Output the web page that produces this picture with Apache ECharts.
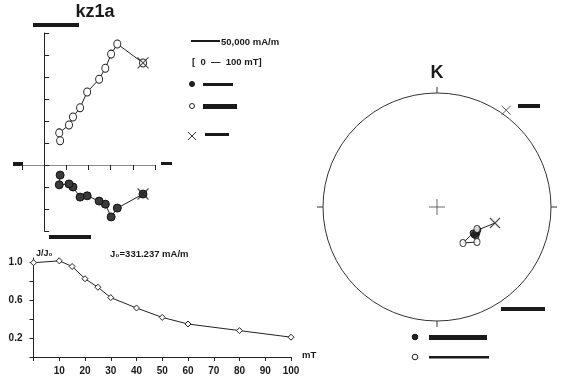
<!DOCTYPE html>
<html><head><meta charset="utf-8">
<script src="https://cdn.jsdelivr.net/npm/echarts@6/dist/echarts.min.js"></script>
<style>html,body{margin:0;padding:0;background:#fff}#c{width:579px;height:380px}</style>
</head><body><div id="c"></div>
<script>
// AF demagnetisation steps (mT)
const steps = [0, 10, 15, 20, 25, 30, 40, 50, 60, 80, 100];
// orthogonal components (mA/m)
const east  = [223, 165, 151, 138, 124, 97, 81, 65, 56, 34, 36];
const north = [-66, -98, -118, -89, -82, -70, -73, -50, -43, -45, -23];
const up    = [232, 275, 252, 220, 195, 166, 130, 109, 91, 73, 55];
// normalised remanence J/J0
const jRel = [1.0, 1.02, 0.96, 0.83, 0.74, 0.63, 0.52, 0.42, 0.35, 0.28, 0.21];
// directions for the equal-area net (negative inc = upper hemisphere)
const dec = [105.4, 119.3, 123.0, 122.7, 125.4, 127.1, 118.8, 126.6, 125.8, 144.2, 131.2];
const inc = [46.2, 56.1, 55.6, 56.6, 56.4, 56.5, -57.1, 54.9, 58.0, -58.0, -51.5];
const refDir = [35.5, 0];
// tick labels
const demagLabels = [10, 20, 30, 40, 50, 60, 70, 80, 90, 100];
const jLabels = [0.2, 0.6, 1.0];
const jTicks = [0, 0.2, 0.4, 0.6, 0.8, 1.0];

const FONT = 'Liberation Sans, DejaVu Sans, Arial, sans-serif';
const X_PATH = 'path://M0,0L10,10M10,0L0,10';
const PLUS_PATH = 'path://M5,0L5,10M0,5L10,5';

// equal-area radius (0 at centre, 1 at primitive)
function eqArea(i) {
  return Math.SQRT2 * Math.sin((90 - Math.abs(i)) / 2 * Math.PI / 180);
}

const netPts = dec.map((d, k) => [eqArea(inc[k]), d]);
const lowerPts = netPts.filter((p, k) => inc[k] >= 0 && k > 0);
const upperPts = netPts.filter((p, k) => inc[k] < 0 && k > 0);

const chart = echarts.init(document.getElementById('c'), null, {renderer: 'canvas'});

const bar = (x, y, w, h) => ({type: 'rect', shape: {x, y, width: w, height: h}, style: {fill: '#1a1a1a'}, silent: true});
const txt = (x, y, text, size, align, weight) => ({
  type: 'text', x, y,
  style: {text, font: (weight || 'bold') + ' ' + size + 'px ' + FONT, fill: '#1a1a1a', align: align || 'left', verticalAlign: 'middle'},
  silent: true
});

chart.setOption({
  animation: false,
  backgroundColor: '#fff',
  grid: [
    {left: 22, top: 33, width: 133, height: 198},
    {left: 33.5, top: 258, width: 257.5, height: 99}
  ],
  xAxis: [
    {gridIndex: 0, type: 'value', min: -50, max: 250, interval: 50,
     axisLine: {onZero: true, lineStyle: {color: '#8a8a8a', width: 1}},
     axisTick: {show: true, length: 5, lineStyle: {color: '#222'}},
     axisLabel: {show: false}, splitLine: {show: false}},
    {gridIndex: 1, type: 'value', min: 0, max: 100, interval: 10,
     axisLine: {lineStyle: {color: '#222', width: 1}},
     axisTick: {show: true, length: 4, lineStyle: {color: '#222'}},
     axisLabel: {show: true, margin: 9, fontSize: 10, fontWeight: 'bold', fontFamily: FONT, color: '#1a1a1a',
       customValues: demagLabels},
     splitLine: {show: false}}
  ],
  yAxis: [
    {gridIndex: 0, type: 'value', min: -150, max: 300, interval: 50,
     axisLine: {onZero: true, lineStyle: {color: '#222', width: 1}},
     axisTick: {show: true, inside: true, length: 5, lineStyle: {color: '#222'}},
     axisLabel: {show: false}, splitLine: {show: false}},
    {gridIndex: 1, type: 'value', min: 0, max: 1.05, interval: 0.2,
     axisLine: {show: true, lineStyle: {color: '#222', width: 1}},
     axisTick: {show: true, length: 4, lineStyle: {color: '#222'}, customValues: jTicks},
     axisLabel: {show: true, margin: 11, fontSize: 10, fontWeight: 'bold', fontFamily: FONT, color: '#1a1a1a',
       customValues: jLabels, formatter: v => Number(v).toFixed(1)},
     splitLine: {show: false}}
  ],
  polar: {center: [437, 207], radius: 114},
  angleAxis: {type: 'value', min: 0, max: 360, interval: 90, startAngle: 90, clockwise: true,
    axisLine: {lineStyle: {color: '#333', width: 1}},
    axisTick: {show: true, length: 6, lineStyle: {color: '#333'}},
    axisLabel: {show: false}, splitLine: {show: false}},
  radiusAxis: {type: 'value', min: 0, max: 1, show: false,
    axisLine: {show: false}, axisTick: {show: false}, axisLabel: {show: false}, splitLine: {show: false}},
  series: [
    // vertical projection
    {type: 'line', xAxisIndex: 0, yAxisIndex: 0,
     data: east.map((e, k) => [e, up[k]]),
     symbol: 'circle', symbolSize: [7, 8], showSymbol: true,
     lineStyle: {color: '#222', width: 1},
     itemStyle: {color: '#fff', borderColor: '#222', borderWidth: 1}, z: 3},
    // horizontal projection
    {type: 'line', xAxisIndex: 0, yAxisIndex: 0,
     data: east.map((e, k) => [e, north[k]]),
     symbol: 'circle', symbolSize: 8, showSymbol: true,
     lineStyle: {color: '#222', width: 1},
     itemStyle: {color: '#3a3a3a', borderColor: '#111', borderWidth: 1}, z: 3},
    // NRM markers
    {type: 'scatter', xAxisIndex: 0, yAxisIndex: 0,
     data: [[east[0], up[0]], [east[0], north[0]]],
     symbol: X_PATH, symbolSize: 11,
     itemStyle: {color: 'transparent', borderColor: '#222', borderWidth: 1.2}, z: 5},
    // intensity decay
    {type: 'line', xAxisIndex: 1, yAxisIndex: 1,
     data: steps.map((s, k) => [s, jRel[k]]),
     symbol: 'diamond', symbolSize: 6, showSymbol: true,
     lineStyle: {color: '#222', width: 1},
     itemStyle: {color: '#fff', borderColor: '#222', borderWidth: 1}, z: 3},
    // net: path through the steps
    {type: 'line', coordinateSystem: 'polar', data: netPts, showSymbol: false, symbol: 'none',
     lineStyle: {color: '#222', width: 1}, z: 2},
    {type: 'scatter', coordinateSystem: 'polar', data: lowerPts, symbol: 'circle', symbolSize: 6,
     itemStyle: {color: '#2a2a2a', borderColor: '#111', borderWidth: 1}, z: 3},
    {type: 'scatter', coordinateSystem: 'polar', data: upperPts, symbol: 'circle', symbolSize: [6, 7],
     itemStyle: {color: '#fff', borderColor: '#222', borderWidth: 1}, z: 4},
    {type: 'scatter', coordinateSystem: 'polar', data: [netPts[0]], symbol: X_PATH, symbolSize: 10,
     itemStyle: {color: 'transparent', borderColor: '#222', borderWidth: 1.2}, z: 5},
    {type: 'scatter', coordinateSystem: 'polar', data: [[eqArea(refDir[1]), refDir[0]]],
     symbol: X_PATH, symbolSize: 9, symbolOffset: [3, -4],
     itemStyle: {color: 'transparent', borderColor: '#333', borderWidth: 1}, z: 5},
    // centre cross
    {type: 'scatter', coordinateSystem: 'polar', data: [[0, 0]], symbol: PLUS_PATH, symbolSize: 16,
     itemStyle: {color: 'transparent', borderColor: '#444', borderWidth: 1}, z: 1}
  ],
  graphic: [
    txt(95, 12, 'kz1a', 18, 'center'),
    txt(437, 73, 'K', 18, 'center'),
    // Zijderveld axis captions
    bar(33, 23, 46, 4), bar(13, 162, 10, 4), bar(161, 162, 11, 3), bar(49, 235, 42, 4),
    // scale and legend
    {type: 'line', shape: {x1: 191, y1: 41, x2: 220, y2: 41}, style: {stroke: '#1a1a1a', lineWidth: 2}, silent: true},
    txt(221, 42, '50,000 mA/m', 9.5),
    txt(192, 62, '[  0  —  100 mT]', 9.5),
    {type: 'circle', shape: {cx: 192, cy: 84, r: 2.5}, style: {fill: '#222', stroke: '#111'}, silent: true},
    bar(203, 83, 30, 3),
    {type: 'circle', shape: {cx: 192, cy: 106, r: 2.5}, style: {fill: '#fff', stroke: '#222', lineWidth: 1}, silent: true},
    bar(203, 104, 34, 5),
    {type: 'polyline', shape: {points: [[188, 132], [196, 140]]}, style: {stroke: '#333', lineWidth: 1}, silent: true},
    {type: 'polyline', shape: {points: [[196, 132], [188, 140]]}, style: {stroke: '#333', lineWidth: 1}, silent: true},
    bar(205, 133, 24, 3),
    // intensity captions
    txt(36, 254, 'J/J₀', 9),
    txt(110, 254, 'J₀=331.237 mA/m', 9.5),
    txt(302, 355, 'mT', 9.5),
    // net captions and legend
    bar(518, 104, 22, 4),
    bar(501, 307, 44, 4),
    {type: 'circle', shape: {cx: 415, cy: 337, r: 2.8}, style: {fill: '#222', stroke: '#111'}, silent: true},
    bar(429, 335, 58, 5),
    {type: 'circle', shape: {cx: 415, cy: 357, r: 2.8}, style: {fill: '#fff', stroke: '#222', lineWidth: 1}, silent: true},
    bar(429, 356, 60, 2.5)
  ]
});
</script>
</body></html>
